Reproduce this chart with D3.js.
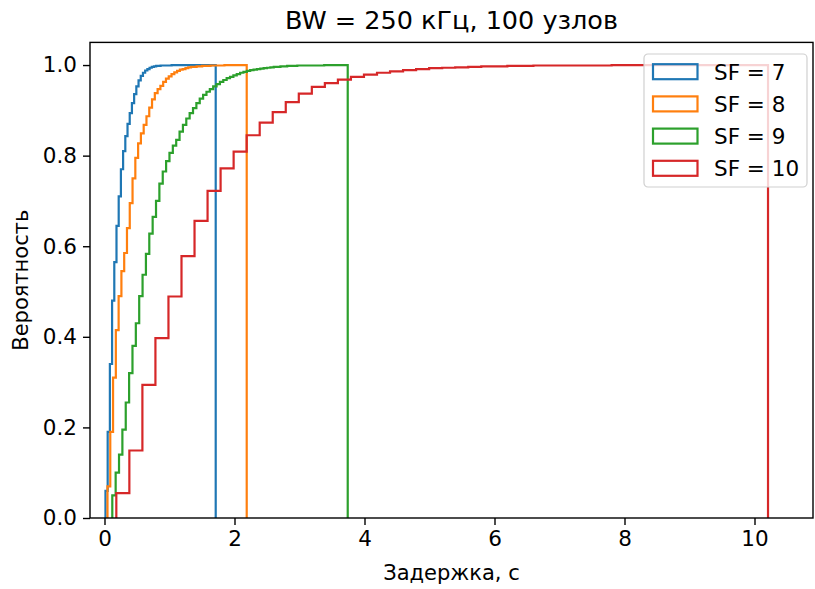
<!DOCTYPE html>
<html>
<head>
<meta charset="utf-8">
<script src="https://cdn.jsdelivr.net/npm/d3@7"></script>
<style>
body { margin: 0; background: #fff; }
text { font-family: "DejaVu Sans", sans-serif; fill: #000; }
</style>
</head>
<body>
<svg width="815" height="589"></svg>
<script>
// series names and colours
var labels = ["SF = 7", "SF = 8", "SF = 9", "SF = 10"];
var palette = ["#1f77b4", "#ff7f0e", "#2ca02c", "#d62728"];

// data range of each histogram (seconds): min and max delay
var ranges = [[0.015, 1.711], [0.046, 2.188], [0.12, 3.742], [0.182, 10.208]];

// cumulative share per bin
var sf7 = [0.06, 0.19, 0.34, 0.48, 0.565, 0.645, 0.71, 0.77, 0.81, 0.843,
	0.87, 0.894, 0.916, 0.936, 0.953, 0.966, 0.976, 0.983, 0.988, 0.991,
	0.994, 0.996, 0.997, 0.998, 0.998, 0.999, 0.999, 0.999, 0.999, 0.999,
	1, 1, 1, 1, 1, 1, 1, 1, 1, 1,
	1, 1, 1, 1, 1, 1, 1, 1, 1, 1];
var sf8 = [0.07, 0.19, 0.31, 0.415, 0.49, 0.545, 0.585, 0.64, 0.695, 0.75,
	0.795, 0.827, 0.849, 0.868, 0.887, 0.906, 0.924, 0.938, 0.947, 0.954,
	0.963, 0.97, 0.975, 0.98, 0.984, 0.987, 0.99, 0.991, 0.993, 0.995,
	0.996, 0.996, 0.997, 0.997, 0.998, 0.998, 0.998, 0.999, 0.999, 0.999,
	0.999, 0.999, 1, 1, 1, 1, 1, 1, 1, 1];
var sf9 = [0.05, 0.10, 0.14, 0.195, 0.255, 0.32, 0.38, 0.43, 0.49, 0.537,
	0.583, 0.628, 0.665, 0.70, 0.738, 0.765, 0.788, 0.806, 0.822, 0.835,
	0.853, 0.868, 0.882, 0.894, 0.905, 0.916, 0.926, 0.934, 0.941, 0.947,
	0.953, 0.958, 0.963, 0.967, 0.971, 0.974, 0.977, 0.98, 0.983, 0.985,
	0.987, 0.989, 0.99, 0.991, 0.992, 0.993, 0.994, 0.995, 0.996, 0.996,
	0.997, 0.997, 0.998, 0.998, 0.998, 0.999, 0.999, 0.999, 0.999, 0.999,
	0.999, 0.999, 0.999, 1, 1, 1, 1, 1, 1, 1];
var sf10 = [0.055, 0.149, 0.294, 0.397, 0.489, 0.578, 0.656, 0.722, 0.772, 0.809,
	0.845, 0.873, 0.896, 0.918, 0.937, 0.952, 0.96, 0.968, 0.974, 0.979,
	0.983, 0.986, 0.989, 0.991, 0.993, 0.994, 0.995, 0.996, 0.997, 0.997,
	0.998, 0.998, 0.999, 0.999, 0.999, 0.999, 0.999, 0.999, 1, 1,
	1, 1, 1, 1, 1, 1, 1, 1, 1, 1];
var series = [sf7, sf8, sf9, sf10];

var xTicks = [0, 2, 4, 6, 8, 10];
var yTicks = [0, 0.2, 0.4, 0.6, 0.8, 1.0];

var svg = d3.select("svg");
var mLeft = 90, mRight = 813, mTop = 42.4, mBottom = 518;

var x = d3.scaleLinear().domain([-0.223, 10.9]).range([mLeft, mRight]);
var y = d3.scaleLinear().domain([0, 1.05]).range([mBottom, mTop]);

var line = d3.line().x(function(d) { return x(d[0]); }).y(function(d) { return y(d[1]); });

//step outline of each cumulative histogram
series.forEach(function(vals, s) {
	var lo = ranges[s][0], hi = ranges[s][1], n = vals.length;
	var edges = d3.range(n + 1).map(function(i) { return lo + (hi - lo) * i / n; });
	var pts = [[edges[0], 0]];
	vals.forEach(function(v, i) {
		pts.push([edges[i], v]);
		pts.push([edges[i + 1], v]);
	});
	pts.push([edges[n], 0]);
	svg.append("path")
		.attr("d", line(pts))
		.attr("fill", "none")
		.attr("stroke", palette[s])
		.attr("stroke-width", 2.2)
		.attr("stroke-linejoin", "miter");
});

//axes
var xAxis = svg.append("g")
	.attr("transform", "translate(0," + mBottom + ")")
	.call(d3.axisBottom(x).tickValues(xTicks).tickSize(7).tickPadding(6).tickFormat(d3.format("d")));
var yAxis = svg.append("g")
	.attr("transform", "translate(" + mLeft + ",0)")
	.call(d3.axisLeft(y).tickValues(yTicks).tickSize(7).tickPadding(6).tickFormat(d3.format(".1f")));

[xAxis, yAxis].forEach(function(a) {
	a.select(".domain").remove();
	a.selectAll(".tick line").attr("stroke", "#000").attr("stroke-width", 1.4);
	a.selectAll(".tick text").style("font-size", "21.5px").attr("fill", "#000");
});

//frame
svg.append("rect")
	.attr("x", mLeft).attr("y", mTop)
	.attr("width", mRight - mLeft).attr("height", mBottom - mTop)
	.attr("fill", "none").attr("stroke", "#000").attr("stroke-width", 1.4);

//titles
svg.append("text")
	.attr("x", (mLeft + mRight) / 2).attr("y", 29)
	.attr("text-anchor", "middle")
	.style("font-size", "25.5px")
	.text("BW = 250 кГц, 100 узлов");
svg.append("text")
	.attr("x", (mLeft + mRight) / 2).attr("y", 580)
	.attr("text-anchor", "middle")
	.style("font-size", "21px")
	.text("Задержка, с");
svg.append("text")
	.attr("transform", "translate(28," + (mTop + mBottom) / 2 + ") rotate(-90)")
	.attr("text-anchor", "middle")
	.style("font-size", "21px")
	.text("Вероятность");

//legend
var legend = svg.append("g").attr("transform", "translate(644,54)");
legend.append("rect")
	.attr("width", 163).attr("height", 133)
	.attr("rx", 4)
	.attr("fill", "#fff").attr("fill-opacity", 0.8)
	.attr("stroke", "#d0d0d0").attr("stroke-width", 1.2);
var item = legend.selectAll(".item")
	.data(labels)
	.enter().append("g")
		.attr("class", "item")
		.attr("transform", function(d, i) { return "translate(0," + (17.7 + i * 32.2) + ")"; });
item.append("rect")
	.attr("x", 9).attr("y", -7.5)
	.attr("width", 44.5).attr("height", 15)
	.attr("fill", "none")
	.attr("stroke", function(d, i) { return palette[i]; })
	.attr("stroke-width", 2.2);
item.append("text")
	.attr("x", 70).attr("y", 7.8)
	.style("font-size", "21.5px")
	.text(function(d) { return d; });
</script>
</body>
</html>
